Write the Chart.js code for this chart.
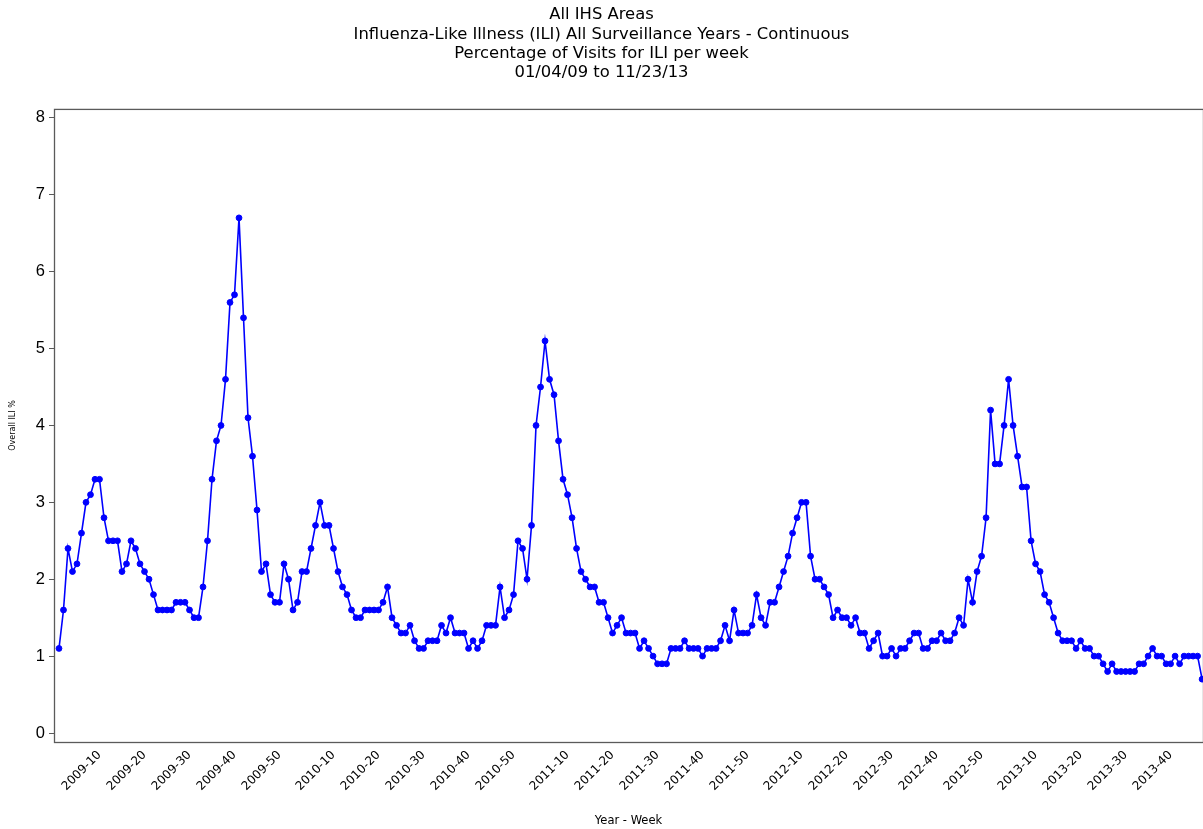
<!DOCTYPE html>
<html>
<head>
<meta charset="utf-8">
<script src="https://cdn.jsdelivr.net/npm/chart.js@4/dist/chart.umd.min.js"></script>
<style>
  html, body { margin: 0; padding: 0; background: #fff; overflow: hidden; }
  #wrap { width: 1203px; height: 829px; }
</style>
</head>
<body>
<div id="wrap"><canvas id="c" width="1203" height="829"></canvas></div>
<script>
// ---- Data ----
const years = [2009, 2010, 2011, 2012, 2013];
const weeksPerYear = [52, 52, 52, 52, 47];

const ili2009 = [1.1,1.6,2.4,2.1,2.2,2.6,3.0,3.1,3.3,3.3,
                 2.8,2.5,2.5,2.5,2.1,2.2,2.5,2.4,2.2,2.1,
                 2.0,1.8,1.6,1.6,1.6,1.6,1.7,1.7,1.7,1.6,
                 1.5,1.5,1.9,2.5,3.3,3.8,4.0,4.6,5.6,5.7,
                 6.7,5.4,4.1,3.6,2.9,2.1,2.2,1.8,1.7,1.7,
                 2.2,2.0];
const ili2010 = [1.6,1.7,2.1,2.1,2.4,2.7,3.0,2.7,2.7,2.4,
                 2.1,1.9,1.8,1.6,1.5,1.5,1.6,1.6,1.6,1.6,
                 1.7,1.9,1.5,1.4,1.3,1.3,1.4,1.2,1.1,1.1,
                 1.2,1.2,1.2,1.4,1.3,1.5,1.3,1.3,1.3,1.1,
                 1.2,1.1,1.2,1.4,1.4,1.4,1.9,1.5,1.6,1.8,
                 2.5,2.4];
const ili2011 = [2.0,2.7,4.0,4.5,5.1,4.6,4.4,3.8,3.3,3.1,
                 2.8,2.4,2.1,2.0,1.9,1.9,1.7,1.7,1.5,1.3,
                 1.4,1.5,1.3,1.3,1.3,1.1,1.2,1.1,1.0,0.9,
                 0.9,0.9,1.1,1.1,1.1,1.2,1.1,1.1,1.1,1.0,
                 1.1,1.1,1.1,1.2,1.4,1.2,1.6,1.3,1.3,1.3,
                 1.4,1.8];
const ili2012 = [1.5,1.4,1.7,1.7,1.9,2.1,2.3,2.6,2.8,3.0,
                 3.0,2.3,2.0,2.0,1.9,1.8,1.5,1.6,1.5,1.5,
                 1.4,1.5,1.3,1.3,1.1,1.2,1.3,1.0,1.0,1.1,
                 1.0,1.1,1.1,1.2,1.3,1.3,1.1,1.1,1.2,1.2,
                 1.3,1.2,1.2,1.3,1.5,1.4,2.0,1.7,2.1,2.3,
                 2.8,4.2];
const ili2013 = [3.5,3.5,4.0,4.6,4.0,3.6,3.2,3.2,2.5,2.2,
                 2.1,1.8,1.7,1.5,1.3,1.2,1.2,1.2,1.1,1.2,
                 1.1,1.1,1.0,1.0,0.9,0.8,0.9,0.8,0.8,0.8,
                 0.8,0.8,0.9,0.9,1.0,1.1,1.0,1.0,0.9,0.9,
                 1.0,0.9,1.0,1.0,1.0,1.0,0.7];

const tickLabels = ['2009-10','2009-20','2009-30','2009-40','2009-50',
                    '2010-10','2010-20','2010-30','2010-40','2010-50',
                    '2011-10','2011-20','2011-30','2011-40','2011-50',
                    '2012-10','2012-20','2012-30','2012-40','2012-50',
                    '2013-10','2013-20','2013-30','2013-40'];
const yTicks = [0,1,2,3,4,5,6,7,8];

const titleLines = ['All IHS Areas',
                    'Influenza-Like Illness (ILI) All Surveillance Years - Continuous',
                    'Percentage of Visits for ILI per week',
                    '01/04/09 to 11/23/13'];

// ---- Build categories (Year-Week) and points ----
const categories = [];
years.forEach((y, i) => {
  for (let w = 1; w <= weeksPerYear[i]; w++) {
    categories.push(y + '-' + String(w).padStart(2, '0'));
  }
});
const values = [].concat(ili2009, ili2010, ili2011, ili2012, ili2013);
const points = values.map((v, i) => ({ x: i, y: v }));
const tickIdx = tickLabels.map(l => categories.indexOf(l));

const framePlugin = {
  id: 'frame',
  beforeDatasetsDraw(chart) {
    const { ctx, chartArea: a } = chart;
    ctx.save();
    ctx.strokeStyle = '#5a5a5a';
    ctx.lineWidth = 1.3;
    ctx.strokeRect(a.left + 0.5, a.top + 0.5, a.right - a.left, a.bottom - a.top);
    ctx.restore();
  }
};

new Chart(document.getElementById('c'), {
  type: 'line',
  data: {
    datasets: [{
      label: 'Overall ILI %',
      data: points,
      borderColor: '#0000ff',
      backgroundColor: '#0000ff',
      borderWidth: 1.6,
      pointRadius: 2.9,
      pointBorderWidth: 1,
      pointBorderColor: '#0000ff',
      pointBackgroundColor: '#0000ff',
      tension: 0,
      fill: false
    }]
  },
  options: {
    responsive: false,
    animation: false,
    devicePixelRatio: 1,
    layout: { padding: 0, autoPadding: false },
    plugins: {
      legend: { display: false },
      tooltip: { enabled: false },
      title: {
        display: true,
        text: titleLines,
        color: '#000',
        font: { family: 'DejaVu Sans', size: 16.4, weight: 'normal', lineHeight: 1.18 },
        padding: { top: 5.5, bottom: 26 }
      }
    },
    scales: {
      x: {
        type: 'linear',
        min: -1.11,
        max: 254.2,
        afterBuildTicks(axis) { axis.ticks = tickIdx.map(v => ({ value: v })); },
        afterFit(axis) { axis.height = 87; axis.paddingRight = 0; axis.paddingLeft = 0; },
        grid: { display: false, drawTicks: false },
        border: { display: false },
        ticks: {
          autoSkip: false,
          minRotation: 45,
          maxRotation: 45,
          padding: 6,
          color: '#000',
          font: { family: 'DejaVu Sans', size: 12 },
          callback: (v) => categories[v]
        },
        title: {
          display: true,
          text: 'Year - Week',
          color: '#000',
          font: { family: 'DejaVu Sans', size: 11.5 },
          padding: { top: 0, bottom: 1 }
        }
      },
      y: {
        min: -0.117,
        max: 8.117,
        afterBuildTicks(axis) { axis.ticks = yTicks.map(v => ({ value: v })); },
        afterFit(axis) { axis.width = 54; },
        grid: { display: true, drawOnChartArea: false, drawTicks: true, tickLength: 5, color: '#5a5a5a', lineWidth: 1 },
        border: { display: false },
        ticks: {
          padding: 4,
          color: '#000',
          font: { family: 'Liberation Sans', size: 16.5 }
        },
        title: {
          display: true,
          text: 'Overall ILI %',
          color: '#000',
          font: { family: 'DejaVu Sans', size: 8 },
          padding: { top: 8, bottom: 0 }
        }
      }
    }
  },
  plugins: [framePlugin]
});
</script>
</body>
</html>
